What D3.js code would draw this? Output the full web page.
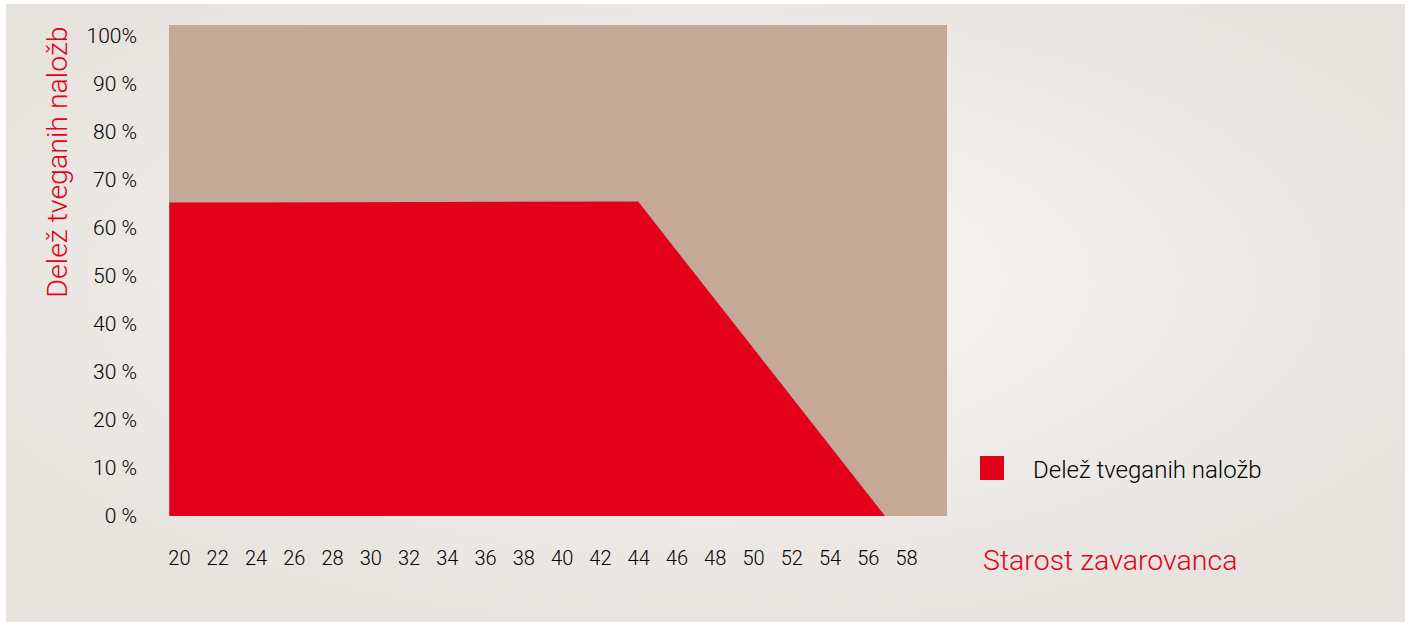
<!DOCTYPE html>
<html>
<head>
<meta charset="utf-8">
<script src="https://cdn.jsdelivr.net/npm/d3@7"></script>
<style>
  html, body { margin: 0; padding: 0; background: #fff; }
  svg { display: block; font-family: Roboto, "Noto Sans", sans-serif; font-weight: 300; }
</style>
</head>
<body>
<div id="chart"></div>
<script>
// Data
const ages = [19.5, 44, 56.9];          // starost zavarovanca
const riskShare = [65.3, 65.5, 0];      // delež tveganih naložb (%)
const ageTicks = [20, 22, 24, 26, 28, 30, 32, 34, 36, 38, 40, 42, 44, 46, 48, 50, 52, 54, 56, 58];
const pctTicks = [0, 10, 20, 30, 40, 50, 60, 70, 80, 90, 100];

const W = 1408, H = 625;
const red = "#e2001a", brown = "#c4a898";

// plot box
const plot = { left: 169, right: 947, top: 25, bottom: 516 };

const svg = d3.select("#chart")
    .append("svg")
    .attr("width", W)
    .attr("height", H);

// soft radial background
const grad = svg.append("defs").append("radialGradient")
    .attr("id", "bg")
    .attr("cx", "50%").attr("cy", "45%").attr("r", "60%");
grad.append("stop").attr("offset", "0%").attr("stop-color", "#f8f7f5");
grad.append("stop").attr("offset", "100%").attr("stop-color", "#e6e2de");

svg.append("rect")
    .attr("x", 6).attr("y", 4)
    .attr("width", 1399).attr("height", 618)
    .attr("fill", "url(#bg)");

// scales
const x = d3.scaleLinear()
    .domain([19.48, 60.14])
    .range([plot.left, plot.right]);
const y = d3.scaleLinear()
    .domain([0, 100])
    .range([plot.bottom, 36]);

// brown plot area (the rest of the portfolio)
svg.append("rect")
    .attr("x", plot.left)
    .attr("y", plot.top)
    .attr("width", plot.right - plot.left)
    .attr("height", plot.bottom - plot.top)
    .attr("fill", brown);

// red area - share of risky investments
const pts = ages.map((a, i) => ({ age: a, v: riskShare[i] }));
const area = d3.area()
    .x(d => x(d.age))
    .y0(y(0))
    .y1(d => y(d.v));
svg.append("path")
    .datum(pts)
    .attr("d", area)
    .attr("fill", red);

// y axis
svg.append("g")
    .attr("transform", `translate(137,0)`)
    .call(d3.axisLeft(y)
        .tickValues(pctTicks)
        .tickSize(0)
        .tickPadding(0)
        .tickFormat(d => d === 100 ? "100%" : `${d} %`))
    .call(g => g.select(".domain").remove())
    .call(g => g.selectAll("text")
        .attr("font-size", "21px")
        .attr("font-family", "Roboto, sans-serif")
        .attr("font-weight", 300)
        .attr("fill", "#000"));

// x axis
svg.append("g")
    .attr("transform", `translate(0,551)`)
    .call(d3.axisBottom(x)
        .tickValues(ageTicks)
        .tickSize(0)
        .tickPadding(0)
        .tickFormat(d3.format("d")))
    .call(g => g.select(".domain").remove())
    .call(g => g.selectAll("text")
        .attr("font-size", "20px")
        .attr("font-family", "Roboto, sans-serif")
        .attr("font-weight", 300)
        .attr("fill", "#000"));

// y axis title
svg.append("text")
    .attr("transform", "translate(67,162) rotate(-90)")
    .attr("text-anchor", "middle")
    .attr("font-size", "28.5px")
    .attr("fill", red)
    .text("Delež tveganih naložb");

// x axis title
svg.append("text")
    .attr("x", 983)
    .attr("y", 570)
    .attr("font-size", "28.5px")
    .attr("fill", red)
    .text("Starost zavarovanca");

// legend
svg.append("rect")
    .attr("x", 980).attr("y", 456)
    .attr("width", 24).attr("height", 24)
    .attr("fill", red);
svg.append("text")
    .attr("x", 1033)
    .attr("y", 478)
    .attr("font-size", "24px")
    .attr("fill", "#000")
    .text("Delež tveganih naložb");
</script>
</body>
</html>
